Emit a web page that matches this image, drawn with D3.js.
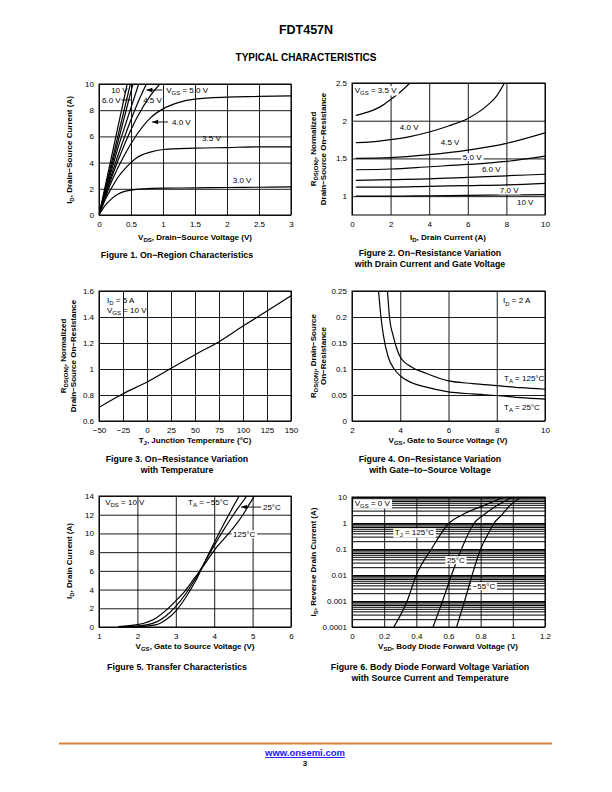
<!DOCTYPE html>
<html><head><meta charset="utf-8">
<script src="https://cdn.jsdelivr.net/npm/d3@7"></script>
<style>
html,body{margin:0;padding:0;background:#fff;}
svg{display:block;font-family:"Liberation Sans",Arial,Helvetica,sans-serif;}
</style></head>
<body>
<svg id="page" width="612" height="792"></svg>
<script>
// ---------------- DATA ----------------
// Figure 1: On-Region Characteristics  (VDS [V], ID [A])
const fig1XTicks = [0, 0.5, 1, 1.5, 2, 2.5, 3];
const fig1YTicks = [0, 2, 4, 6, 8, 10];
const fig1Vgs10 = [[0,0],[0.44,10]];
const fig1Vgs7 = [[0,0],[0.49,10]];
const fig1Vgs6 = [[0,0],[0.53,10]];
const fig1Vgs55 = [[0,0],[0.3,5.2],[0.62,10]];
const fig1Vgs5 = [[0,0],[0.3,4.6],[0.6,8.5],[0.74,10]];
const fig1Vgs45 = [[0,0],[0.2,2.9],[0.4,5.4],[0.6,7.5],[0.8,9.1],[0.95,10]];
const fig1Vgs4 = [[0,0],[0.2,2.6],[0.4,4.6],[0.6,6.2],[0.8,7.4],[1,8.1],[1.25,8.6],[1.5,8.85],[2,9.0],[2.5,9.05],[3,9.1]];
const fig1Vgs35 = [[0,0],[0.1,1.2],[0.2,2.1],[0.3,2.9],[0.4,3.5],[0.5,4.0],[0.6,4.4],[0.8,4.8],[1,5.0],[1.5,5.1],[2,5.15],[2.5,5.2],[3,5.2]];
const fig1Vgs3 = [[0,0],[0.1,0.75],[0.2,1.25],[0.3,1.6],[0.4,1.8],[0.5,1.9],[0.7,2.0],[1,2.05],[1.5,2.07],[2,2.1],[2.5,2.12],[3,2.15]];

// Figure 2: Normalized RDS(ON) vs ID
const fig2XTicks = [0, 2, 4, 6, 8, 10];
const fig2YTicks = [1, 1.5, 2, 2.5];
const fig2Vgs35 = [[0.2,2.07],[0.5,2.09],[1,2.13],[1.5,2.19],[2,2.28],[2.5,2.38],[3,2.5]];
const fig2Vgs4 = [[0.2,1.71],[1,1.72],[2,1.75],[3,1.79],[4,1.85],[5,1.93],[6,2.03],[7,2.2],[7.5,2.33],[7.9,2.5]];
const fig2Vgs45 = [[0.2,1.5],[2,1.51],[4,1.55],[6,1.61],[8,1.7],[10,1.84]];
const fig2Vgs5 = [[0.2,1.35],[2,1.36],[4,1.39],[6,1.42],[8,1.46],[10,1.53]];
const fig2Vgs6 = [[0.2,1.21],[2,1.22],[4,1.23],[6,1.25],[8,1.27],[10,1.29]];
const fig2Vgs7 = [[0.2,1.12],[2,1.12],[4,1.13],[6,1.14],[8,1.15],[10,1.17]];
const fig2Vgs10 = [[0.2,1.0],[2,1.0],[4,1.005],[6,1.01],[8,1.015],[10,1.02]];

// Figure 3: Normalized RDS(ON) vs Tj
const fig3XTicks = [-50, -25, 0, 25, 50, 75, 100, 125, 150];
const fig3YTicks = [0.6, 0.8, 1, 1.2, 1.4, 1.6];
const fig3Rds = [[-50,0.705],[-25,0.81],[0,0.9],[25,1.005],[50,1.11],[75,1.21],[100,1.33],[125,1.446],[150,1.564]];

// Figure 4: RDS(ON) vs VGS
const fig4XTicks = [2, 4, 6, 8, 10];
const fig4YTicks = [0, 0.05, 0.1, 0.15, 0.2, 0.25];
const fig4T125 = [[3.47,0.25],[3.56,0.197],[3.7,0.165],[3.85,0.14],[4,0.123],[4.5,0.103],[5,0.093],[6,0.077],[7,0.072],[8,0.068],[9,0.064],[10,0.061]];
const fig4T25 = [[3.1,0.25],[3.2,0.2],[3.3,0.165],[3.5,0.123],[3.75,0.1],[4,0.087],[4.5,0.073],[5,0.066],[6,0.056],[7,0.052],[8,0.049],[9,0.045],[10,0.042]];

// Figure 5: Transfer Characteristics
const fig5XTicks = [1, 2, 3, 4, 5, 6];
const fig5YTicks = [0, 2, 4, 6, 8, 10, 12, 14];
const fig5Tm55 = [[1.5,0],[2,0.02],[2.5,0.25],[2.75,0.8],[3,1.7],[3.25,3.1],[3.5,4.8],[3.75,6.9],[4,9.0],[4.25,11.0],[4.5,12.9],[4.65,14]];
const fig5T25 = [[1.5,0.02],[2,0.1],[2.5,0.55],[2.75,1.2],[3,2.2],[3.25,3.5],[3.5,5.1],[3.75,6.9],[4,8.7],[4.25,10.4],[4.5,12.0],[4.85,14]];
const fig5T125 = [[1.5,0.05],[2,0.25],[2.5,1.0],[2.75,1.8],[3,2.8],[3.25,3.9],[3.5,5.3],[3.75,6.7],[4,8.2],[4.25,9.4],[4.5,10.6],[4.75,12.0],[5.0,13.7],[5.05,14]];

// Figure 6: Body Diode Forward Voltage
const fig6XTicks = [0, 0.2, 0.4, 0.6, 0.8, 1, 1.2];
const fig6YTicks = [0.0001, 0.001, 0.01, 0.1, 1, 10];
const fig6YLabels = ["0.0001", "0.001", "0.01", "0.1", "1", "10"];
const fig6T125 = [[0.26,0.0001],[0.343,0.001],[0.40,0.01],[0.494,0.1],[0.604,1],[0.68,2],[0.83,5],[0.95,10]];
const fig6T25 = [[0.504,0.0001],[0.563,0.001],[0.619,0.01],[0.681,0.1],[0.76,1],[0.816,2],[0.909,5],[1.0,10]];
const fig6Tm55 = [[0.65,0.0001],[0.70,0.001],[0.747,0.01],[0.80,0.1],[0.857,0.5],[0.884,1],[0.93,2],[0.986,5],[1.055,10]];

// ---------------- DRAWING ----------------
const svg = d3.select('#page');
const FONT_TICK = 8, FONT_LAB = 8, FONT_TITLE = 8, FONT_CAP = 8.8;

function rich(sel, s, fs) {
  const parts = s.split(/(_\{[^}]*\})/).filter(p => p.length);
  let shifted = false;
  parts.forEach(p => {
    const t = sel.append('tspan');
    if (p.startsWith('_{')) {
      t.attr('font-size', fs * 0.75).attr('dy', fs * 0.3).text(p.slice(2, -1));
      shifted = true;
    } else {
      if (shifted) { t.attr('dy', -fs * 0.3); shifted = false; }
      t.text(p);
    }
  });
  return sel;
}

function text(x, y, s, o = {}) {
  const fs = o.fs || FONT_LAB;
  const t = svg.append('text').attr('x', x).attr('y', y)
    .attr('font-size', fs).attr('fill', o.fill || '#000')
    .attr('font-weight', o.bold ? 'bold' : 'normal')
    .attr('text-anchor', o.anchor || 'start');
  rich(t, s, fs);
  if (o.bg) {
    const b = t.node().getBBox();
    svg.insert('rect', () => t.node()).attr('x', b.x - 1.5).attr('y', b.y + 0.5)
      .attr('width', b.width + 3).attr('height', b.height - 1).attr('fill', '#fff');
  }
  return t;
}

function makeChart(o) {
  const g = svg.append('g');
  const x = d3.scaleLinear().domain(o.xd).range([o.x0, o.x1]);
  const y = (o.log ? d3.scaleLog() : d3.scaleLinear()).domain(o.yd).range([o.y1, o.y0]);
  const H = o.y1 - o.y0, W = o.x1 - o.x0;
  // grid
  const gx = g.append('g').attr('transform', `translate(0,${o.y1})`)
    .call(d3.axisBottom(x).tickValues(o.xTicks).tickSize(-H).tickFormat(''));
  gx.select('.domain').remove();
  gx.selectAll('line').attr('stroke', '#000').attr('stroke-width', 0.9);
  const gy = g.append('g').attr('transform', `translate(${o.x0},0)`)
    .call(d3.axisLeft(y).tickValues(o.gridY || o.yTicks).tickSize(-W).tickFormat(''));
  gy.select('.domain').remove();
  gy.selectAll('line').attr('stroke', '#000').attr('stroke-width', o.gridW || 0.9);
  // labels
  const lx = g.append('g').attr('transform', `translate(0,${o.y1})`)
    .call(d3.axisBottom(x).tickValues(o.xTicks).tickSize(0).tickPadding(6).tickFormat(o.xFmt || (d => String(d).replace('-', '\u2212'))));
  lx.select('.domain').remove();
  lx.selectAll('text').attr('font-size', FONT_TICK).attr('font-family', null).attr('fill', '#000');
  const ly = g.append('g').attr('transform', `translate(${o.x0},0)`)
    .call(d3.axisLeft(y).tickValues(o.yTicks).tickSize(0).tickPadding(5).tickFormat(o.yFmt || (d => String(d))));
  ly.select('.domain').remove();
  ly.selectAll('text').attr('font-size', FONT_TICK).attr('font-family', null).attr('fill', '#000');
  // border
  g.append('rect').attr('x', o.x0).attr('y', o.y0).attr('width', W).attr('height', H)
    .attr('fill', 'none').attr('stroke', '#000').attr('stroke-width', 1);
  // clip
  const id = 'clip' + Math.random().toString(36).slice(2);
  svg.append('clipPath').attr('id', id).append('rect')
    .attr('x', o.x0).attr('y', o.y0).attr('width', W).attr('height', H);
  const curves = svg.append('g').attr('clip-path', `url(#${id})`);
  return { x, y, curves };
}

function drawSeries(c, data, curve) {
  const line = d3.line().x(d => c.x(d[0])).y(d => c.y(d[1])).curve(curve || d3.curveMonotoneX);
  c.curves.append('path').attr('d', line(data)).attr('fill', 'none')
    .attr('stroke', '#000').attr('stroke-width', 1.2);
}

function label(c, xv, yv, s, o = {}) {
  return text(c.x(xv), c.y(yv) + 2.8, s, o);
}

function leader(c, x1, x2, yv, arrow) {
  const py = c.y(yv);
  svg.append('line').attr('x1', c.x(x1)).attr('x2', c.x(x2)).attr('y1', py).attr('y2', py)
    .attr('stroke', '#000').attr('stroke-width', 0.9);
  if (arrow) {
    const px = c.x(x2);
    svg.append('path').attr('d', `M${px},${py}L${px + 6},${py - 2.2}L${px + 6},${py + 2.2}Z`).attr('fill', '#000');
  }
}

function yTitle(cx, cy, s) {
  const t = svg.append('text').attr('transform', `translate(${cx},${cy}) rotate(-90)`)
    .attr('font-size', FONT_TITLE).attr('font-weight', 'bold').attr('text-anchor', 'middle');
  rich(t, s, FONT_TITLE);
}

// Header
text(306, 34, 'FDT457N', { fs: 12.5, bold: true, anchor: 'middle' });
text(306, 61, 'TYPICAL CHARACTERISTICS', { fs: 10, bold: true, anchor: 'middle' });

// ---- Figure 1
const c1 = makeChart({ x0: 99, x1: 291, y0: 84, y1: 215, xd: [0, 3], yd: [0, 10], xTicks: fig1XTicks, yTicks: fig1YTicks });
[fig1Vgs10, fig1Vgs7, fig1Vgs6, fig1Vgs55].forEach(d => drawSeries(c1, d, d3.curveLinear));
[fig1Vgs5, fig1Vgs45, fig1Vgs4, fig1Vgs35, fig1Vgs3].forEach(d => drawSeries(c1, d));
label(c1, 0.19, 9.54, '10 V');
label(c1, 0.047, 8.78, '6.0 V');
leader(c1, 0.35, 0.5, 8.78, false);
label(c1, 1.05, 9.54, 'V_{GS} = 5.0 V');
leader(c1, 0.99, 0.74, 9.54, true);
label(c1, 0.69, 8.78, '4.5 V');
label(c1, 1.14, 7.1, '4.0 V');
leader(c1, 1.08, 0.83, 7.1, true);
label(c1, 1.61, 5.88, '3.5 V');
label(c1, 2.09, 2.67, '3.0 V');
text(195, 240, 'V_{DS}, Drain\u2212Source Voltage (V)', { fs: FONT_TITLE, bold: true, anchor: 'middle' });
yTitle(72, 150, 'I_{D}, Drain\u2212Source Current (A)');
text(177, 258, 'Figure 1. On\u2212Region Characteristics', { fs: FONT_CAP, bold: true, anchor: 'middle' });

// ---- Figure 2
const c2 = makeChart({ x0: 352, x1: 545, y0: 83, y1: 215, xd: [0, 10], yd: [0.75, 2.5], xTicks: fig2XTicks, yTicks: fig2YTicks });
[fig2Vgs35, fig2Vgs4, fig2Vgs45, fig2Vgs5, fig2Vgs6, fig2Vgs7, fig2Vgs10].forEach(d => drawSeries(c2, d));
label(c2, 0.14, 2.41, 'V_{GS} = 3.5 V', { bg: true });
label(c2, 2.48, 1.91, '4.0 V');
label(c2, 4.6, 1.71, '4.5 V');
label(c2, 5.74, 1.52, '5.0 V', { bg: true });
label(c2, 6.73, 1.36, '6.0 V');
label(c2, 7.66, 1.08, '7.0 V', { bg: true });
label(c2, 8.55, 0.92, '10 V');
text(448, 240, 'I_{D}, Drain Current (A)', { fs: FONT_TITLE, bold: true, anchor: 'middle' });
yTitle(316, 149, 'R_{DS(ON)}, Normalized');
yTitle(326, 149, 'Drain\u2212Source On\u2212Resistance');
text(430, 256, 'Figure 2. On\u2212Resistance Variation', { fs: FONT_CAP, bold: true, anchor: 'middle' });
text(430, 267, 'with Drain Current and Gate Voltage', { fs: FONT_CAP, bold: true, anchor: 'middle' });

// ---- Figure 3
const c3 = makeChart({ x0: 99, x1: 291, y0: 291, y1: 421, xd: [-50, 150], yd: [0.6, 1.6], xTicks: fig3XTicks, yTicks: fig3YTicks });
drawSeries(c3, fig3Rds);
label(c3, -41.7, 1.53, 'I_{D} = 5 A');
label(c3, -41.7, 1.454, 'V_{GS} = 10 V');
text(195, 443, 'T_{J}, Junction Temperature (\u00B0C)', { fs: FONT_TITLE, bold: true, anchor: 'middle' });
yTitle(66, 356, 'R_{DS(ON)}, Normalized');
yTitle(76, 356, 'Drain\u2212Source On\u2212Resistance');
text(177, 462, 'Figure 3. On\u2212Resistance Variation', { fs: FONT_CAP, bold: true, anchor: 'middle' });
text(177, 473, 'with Temperature', { fs: FONT_CAP, bold: true, anchor: 'middle' });

// ---- Figure 4
const c4 = makeChart({ x0: 352, x1: 545, y0: 291, y1: 421, xd: [2, 10], yd: [0, 0.25], xTicks: fig4XTicks, yTicks: fig4YTicks });
drawSeries(c4, fig4T125);
drawSeries(c4, fig4T25);
label(c4, 8.26, 0.232, 'I_{D} = 2 A');
label(c4, 8.3, 0.0825, 'T_{A} = 125\u00B0C');
label(c4, 8.3, 0.027, 'T_{A} = 25\u00B0C');
text(448, 443, 'V_{GS}, Gate to Source Voltage (V)', { fs: FONT_TITLE, bold: true, anchor: 'middle' });
yTitle(316, 356, 'R_{DS(ON)}, Drain\u2212Source');
yTitle(326, 356, 'On\u2212Resistance');
text(430, 462, 'Figure 4. On\u2212Resistance Variation', { fs: FONT_CAP, bold: true, anchor: 'middle' });
text(430, 473, 'with Gate\u2212to\u2212Source Voltage', { fs: FONT_CAP, bold: true, anchor: 'middle' });

// ---- Figure 5
const c5 = makeChart({ x0: 99, x1: 291, y0: 496, y1: 627, xd: [1, 6], yd: [0, 14], xTicks: fig5XTicks, yTicks: fig5YTicks });
drawSeries(c5, fig5Tm55);
drawSeries(c5, fig5T25);
drawSeries(c5, fig5T125);
label(c5, 1.16, 13.36, 'V_{DS} = 10 V');
label(c5, 3.32, 13.36, 'T_{A} = \u221255\u00B0C');
label(c5, 4.49, 9.94, '125\u00B0C', { bg: true });
label(c5, 5.27, 12.82, '25\u00B0C');
leader(c5, 5.22, 4.7, 12.82, true);
text(195, 649, 'V_{GS}, Gate to Source Voltage (V)', { fs: FONT_TITLE, bold: true, anchor: 'middle' });
yTitle(72, 561, 'I_{D}, Drain Current (A)');
text(177, 670, 'Figure 5. Transfer Characteristics', { fs: FONT_CAP, bold: true, anchor: 'middle' });

// ---- Figure 6
const fig6Minor = [];
fig6YTicks.slice(0, -1).forEach(d => { for (let k = 2; k <= 9; k++) fig6Minor.push(d * k); });
const c6 = makeChart({ x0: 352, x1: 545, y0: 497, y1: 627, xd: [0, 1.2], yd: [0.0001, 10], log: true,
  xTicks: fig6XTicks, yTicks: fig6YTicks, gridY: fig6YTicks.concat(fig6Minor), gridW: 1,
  xFmt: d => String(d), yFmt: (d, i) => fig6YLabels[i] });
drawSeries(c6, fig6T125);
drawSeries(c6, fig6T25);
drawSeries(c6, fig6Tm55);
label(c6, 0.017, 5.9, 'V_{GS} = 0 V', { bg: true });
label(c6, 0.266, 0.45, 'T_{J} = 125\u00B0C', { bg: true });
label(c6, 0.59, 0.038, '25\u00B0C', { bg: true });
label(c6, 0.75, 0.0038, '\u221255\u00B0C', { bg: true });
text(448, 649, 'V_{SD}, Body Diode Forward Voltage (V)', { fs: FONT_TITLE, bold: true, anchor: 'middle' });
yTitle(316, 562, 'I_{S}, Reverse Drain Current (A)');
text(430, 670, 'Figure 6. Body Diode Forward Voltage Variation', { fs: FONT_CAP, bold: true, anchor: 'middle' });
text(430, 681, 'with Source Current and Temperature', { fs: FONT_CAP, bold: true, anchor: 'middle' });

// Footer
svg.append('line').attr('x1', 59).attr('x2', 552).attr('y1', 743.5).attr('y2', 743.5)
  .attr('stroke', '#d98139').attr('stroke-width', 2);
const link = text(305, 756, 'www.onsemi.com', { fs: 9.5, bold: true, anchor: 'middle', fill: '#1a1aff' });
link.attr('text-decoration', 'underline');
text(305, 766, '3', { fs: 8, bold: true, anchor: 'middle' });
</script>
</body></html>
